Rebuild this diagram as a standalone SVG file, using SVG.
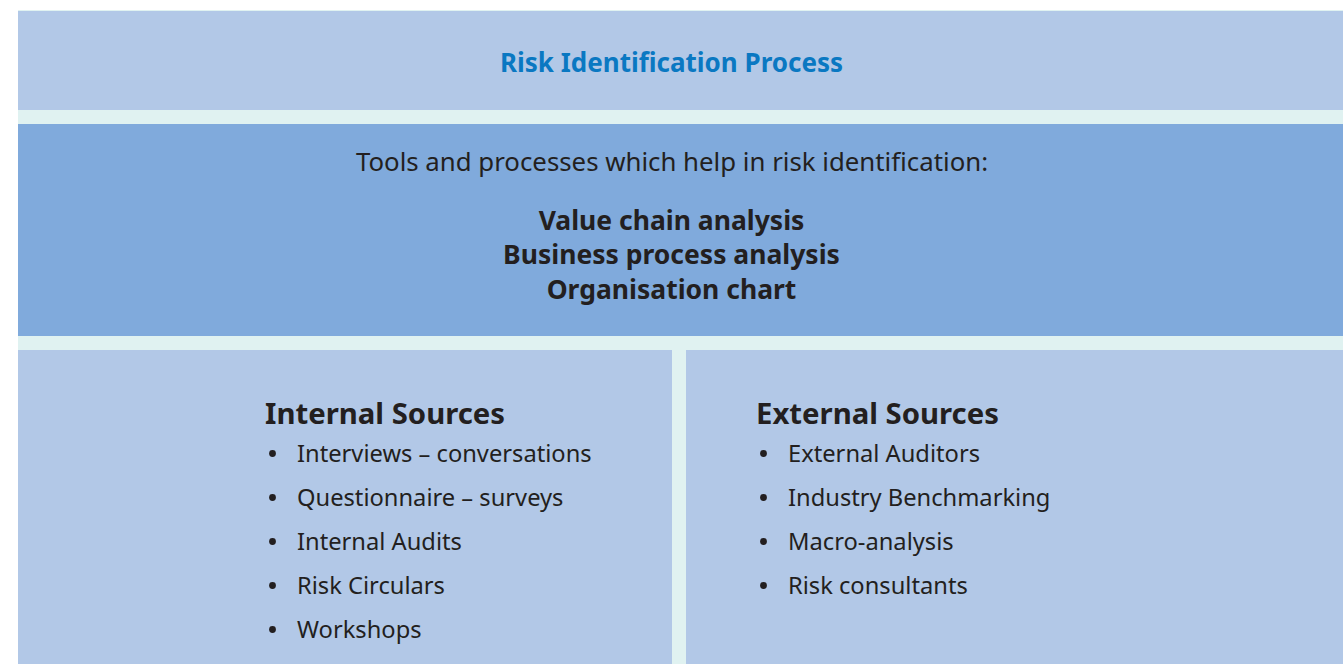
<svg xmlns="http://www.w3.org/2000/svg" width="1343" height="664" viewBox="0 0 1343 664">
<style>
.light{fill:#b2c8e7}
.mid{fill:#80aadc}
.t{font-family:"Noto Sans","Open Sans",sans-serif;fill:#231f20}
.title{font-family:"Noto Sans","Open Sans",sans-serif;font-weight:bold;font-size:26px;fill:#0a78c2}
.b{font-weight:bold}
.h{font-size:29.3px;font-weight:bold}
.li{font-size:23.7px}
.dot{fill:#231f20}
</style>
<rect x="0" y="0" width="1343" height="664" fill="#ffffff"/>
<rect x="18" y="10" width="1325" height="654" fill="#e0f2f1"/>
<g id="title">
<rect class="light" x="18" y="11" width="1325" height="99"/>
<text class="title" x="671.5" y="72" text-anchor="middle">Risk Identification Process</text>
</g>
<g id="tools">
<rect class="mid" x="18" y="124" width="1325" height="212"/>
<text class="t" x="672" y="171" text-anchor="middle" font-size="25.8">Tools and processes which help in risk identification:</text>
<text class="t b" x="671.5" y="230" text-anchor="middle" font-size="26.5">Value chain analysis</text>
<text class="t b" x="671.5" y="264" text-anchor="middle" font-size="26.5">Business process analysis</text>
<text class="t b" x="671.5" y="299" text-anchor="middle" font-size="26.5">Organisation chart</text>
</g>
<g id="internal">
<rect class="light" x="18" y="350" width="654" height="314"/>
<text class="t h" x="265" y="424">Internal Sources</text>
<g class="dot">
<circle cx="272.5" cy="453.5" r="3.4"/>
<circle cx="272.5" cy="497.5" r="3.4"/>
<circle cx="272.5" cy="541.5" r="3.4"/>
<circle cx="272.5" cy="585.5" r="3.4"/>
<circle cx="272.5" cy="629.5" r="3.4"/>
</g>
<g class="t li">
<text x="297" y="462">Interviews – conversations</text>
<text x="297" y="506">Questionnaire – surveys</text>
<text x="297" y="550">Internal Audits</text>
<text x="297" y="594">Risk Circulars</text>
<text x="297" y="638">Workshops</text>
</g>
</g>
<g id="external">
<rect class="light" x="686" y="350" width="657" height="314"/>
<text class="t h" x="756" y="424">External Sources</text>
<g class="dot">
<circle cx="763.5" cy="453.5" r="3.4"/>
<circle cx="763.5" cy="497.5" r="3.4"/>
<circle cx="763.5" cy="541.5" r="3.4"/>
<circle cx="763.5" cy="585.5" r="3.4"/>
</g>
<g class="t li">
<text x="788" y="462">External Auditors</text>
<text x="788" y="506">Industry Benchmarking</text>
<text x="788" y="550">Macro-analysis</text>
<text x="788" y="594">Risk consultants</text>
</g>
</g>
<g id="connectors"/>
</svg>
